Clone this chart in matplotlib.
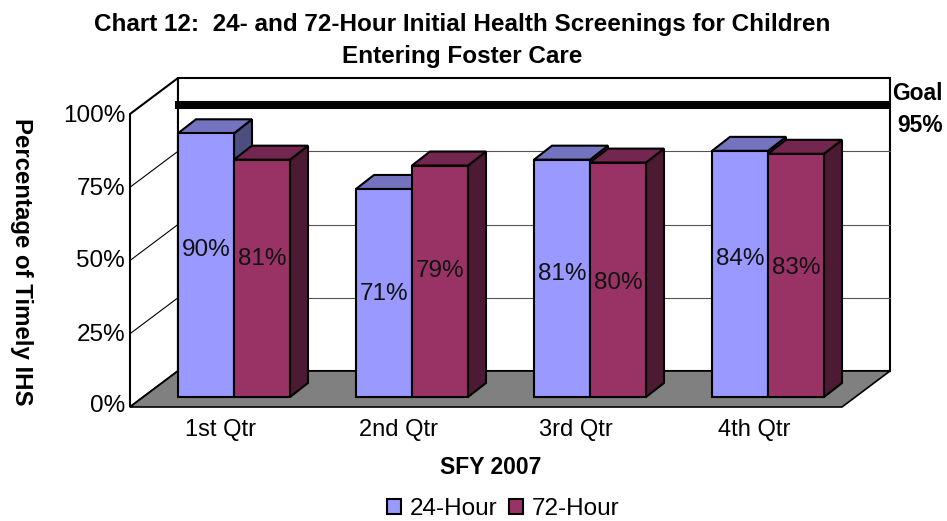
"""Chart 12 - timely initial health screenings, pseudo 3D bars."""

import matplotlib
matplotlib.use('Agg')
import matplotlib.pyplot as plt
from matplotlib.patches import Polygon, Patch

plt.rcParams['font.family'] = ['Liberation Sans', 'DejaVu Sans']

# Data
quarters = ['1st Qtr', '2nd Qtr', '3rd Qtr', '4th Qtr']
hour_24 = [90, 71, 81, 84]
hour_72 = [81, 79, 80, 83]
y_ticks = [0, 25, 50, 75, 100]
goal = 95

# Label heights inside the bars, in percent
label_y_24 = [50, 35, 42, 47]
label_y_72 = [47, 43, 39, 44]

# Plot params: one x unit is one category, one y unit is one percent
PX = 1 / 178
PY = 1 / 2.93
BAR_W = 56 * PX
BAR_DX, BAR_DY = 18 * PX, 14 * PY
WALL_DX, WALL_DY = 48 * PX, 36 * PY
WALL_X0, WALL_X1 = -48 * PX, 712 * PX
WALL_Y0 = -10 * PY

BLUE = ('#9999FF', '#7373BF', '#4D4D80')
RED = ('#993366', '#732650', '#4D1A33')
LW = 1.5


def draw_bar(ax, x, val, cols):
    """Draw one bar: side face, top face, then the front through ax.bar."""
    ax.add_patch(Polygon([(x + BAR_W, 0), (x + BAR_W + BAR_DX, BAR_DY),
                          (x + BAR_W + BAR_DX, val + BAR_DY), (x + BAR_W, val)],
                         fc=cols[2], ec='k', lw=LW, zorder=5))
    ax.add_patch(Polygon([(x, val), (x + BAR_DX, val + BAR_DY),
                          (x + BAR_W + BAR_DX, val + BAR_DY), (x + BAR_W, val)],
                         fc=cols[1], ec='k', lw=LW, zorder=5))
    ax.bar(x, val, width=BAR_W, align='edge', color=cols[0], edgecolor='k',
           linewidth=LW, zorder=5)


# Initialize Plot
fig = plt.figure(figsize=(9.47, 5.21), dpi=100)
ax = fig.add_axes([0, 0, 1, 1])
ax.set_xlim(-178 * PX, 769 * PX)
ax.set_ylim(-124 * PY, 397 * PY)
ax.axis('off')

# Walls and floor
y_top = WALL_Y0 + 100
ax.add_patch(Polygon([(WALL_X0, WALL_Y0), (WALL_X0 + WALL_DX, WALL_Y0 + WALL_DY),
                      (WALL_X0 + WALL_DX, y_top + WALL_DY), (WALL_X0, y_top)],
                     fc='w', ec='k', lw=LW, zorder=1))
ax.add_patch(Polygon([(WALL_X0 + WALL_DX, WALL_Y0 + WALL_DY),
                      (WALL_X1, WALL_Y0 + WALL_DY), (WALL_X1, y_top + WALL_DY),
                      (WALL_X0 + WALL_DX, y_top + WALL_DY)],
                     fc='w', ec='k', lw=LW, zorder=1))
ax.add_patch(Polygon([(WALL_X0, WALL_Y0), (WALL_X0 + WALL_DX, WALL_Y0 + WALL_DY),
                      (WALL_X1, WALL_Y0 + WALL_DY), (WALL_X1 - WALL_DX, WALL_Y0)],
                     fc='#808080', ec='k', lw=1.2, zorder=2))

# Gridlines on both walls
for t in y_ticks[1:-1]:
    y = WALL_Y0 + t
    ax.plot([WALL_X0, WALL_X0 + WALL_DX], [y, y + WALL_DY], color='k', lw=0.8, zorder=2)
    ax.plot([WALL_X0 + WALL_DX, WALL_X1], [y + WALL_DY, y + WALL_DY], color='#555555',
            lw=0.8, zorder=2)

# Bars
for i, (v24, v72) in enumerate(zip(hour_24, hour_72)):
    draw_bar(ax, i, v24, BLUE)
    draw_bar(ax, i + BAR_W, v72, RED)

    ax.text(i + BAR_W / 2, label_y_24[i], '%d%%' % v24, ha='center', va='center',
            fontsize=17.5, color='#111111', zorder=7)
    ax.text(i + BAR_W * 1.5, label_y_72[i], '%d%%' % v72, ha='center', va='center',
            fontsize=17.5, color='#111111', zorder=7)

    ax.text(i + 42 * PX, -33 * PY, quarters[i], ha='center', va='center', fontsize=17)

# Goal line, sits at the back plane of the bars
ax.plot([-3 * PX, WALL_X1], [goal + BAR_DY, goal + BAR_DY], color='k', lw=5.8,
        solid_capstyle='butt', zorder=4)
ax.text(714 * PX, 303 * PY, 'Goal', ha='left', va='center', fontsize=16.5,
        fontweight='bold')
ax.text(719 * PX, 271 * PY, '95%', ha='left', va='center', fontsize=16.5,
        fontweight='bold')

# Y tick labels
for t, p in zip(y_ticks, [-9, 62, 136, 208, 281]):
    ax.text(-53 * PX, p * PY, '%d%%' % t, ha='right', va='center', fontsize=17.5)

# Titles
ax.text(284 * PX, 372 * PY, 'Chart 12:  24- and 72-Hour Initial Health Screenings for Children',
        ha='center', va='center', fontsize=17.5, fontweight='bold')
ax.text(284 * PX, 340 * PY, 'Entering Foster Care', ha='center', va='center',
        fontsize=17.5, fontweight='bold')
ax.text(313 * PX, -71 * PY, 'SFY 2007', ha='center', va='center', fontsize=16.5,
        fontweight='bold')
ax.text(-157 * PX, 135 * PY, 'Percentage of Timely IHS', rotation=270, ha='center',
        va='center', fontsize=17.3, fontweight='bold')

# Legend
handles = [Patch(fc=BLUE[0], ec='k', lw=LW, label='24-Hour'),
           Patch(fc=RED[0], ec='k', lw=LW, label='72-Hour')]
fig.legend(handles=handles, loc='center', bbox_to_anchor=(503 / 947, 1 - 509 / 521),
           ncol=2, frameon=False, fontsize=17.5, handlelength=0.58, handleheight=0.58,
           handletextpad=0.35, columnspacing=0.5, borderpad=0)

fig.savefig('out.png', dpi=100)
